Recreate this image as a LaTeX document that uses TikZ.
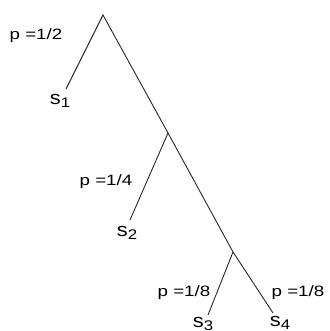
\documentclass[tikz,border=0pt]{standalone}
\usepackage{fontspec}
\setmainfont{Liberation Sans}
\newcommand{\sname}[1]{\scalebox{1.15}[1]{\fontsize{19}{20}\selectfont s}\raisebox{-3.5pt}{\scalebox{1.2}[1]{\fontsize{14}{15}\selectfont #1}}}
\begin{document}
\begin{tikzpicture}[x=1pt,y=-1pt,
  edge/.style={draw=black!85,line width=0.9pt},
  lbl/.style={inner sep=0pt,font=\fontsize{15}{17}\selectfont}]
\useasboundingbox (0,0) rectangle (329,331);
\coordinate (r) at (103,15);
\coordinate (n2) at (168,133);
\coordinate (n3) at (233,252);
\coordinate (e1) at (66,89);
\coordinate (e2) at (130,220);
\coordinate (e3) at (208,315);
\coordinate (e4) at (273,313);
\draw[edge] (e1) -- (r) -- (n2) -- (n3) -- (e4);
\draw[edge] (n2) -- (e2);
\draw[edge] (n3) -- (e3);
\node[lbl] (p1) at (36,36) {\scalebox{1.25}[1]{p =1/2}};
\node[lbl] (s1) at (60,101) {\sname{1}};
\node[lbl] (p2) at (106,182) {\scalebox{1.25}[1]{p =1/4}};
\node[lbl] (s2) at (127,233) {\sname{2}};
\node[lbl] (p3) at (184,293) {\scalebox{1.25}[1]{p =1/8}};
\node[lbl] (p4) at (298,293) {\scalebox{1.25}[1]{p =1/8}};
\node[lbl] (s3) at (203,324) {\sname{3}};
\node[lbl] (s4) at (280,323) {\sname{4}};
\end{tikzpicture}
\end{document}
